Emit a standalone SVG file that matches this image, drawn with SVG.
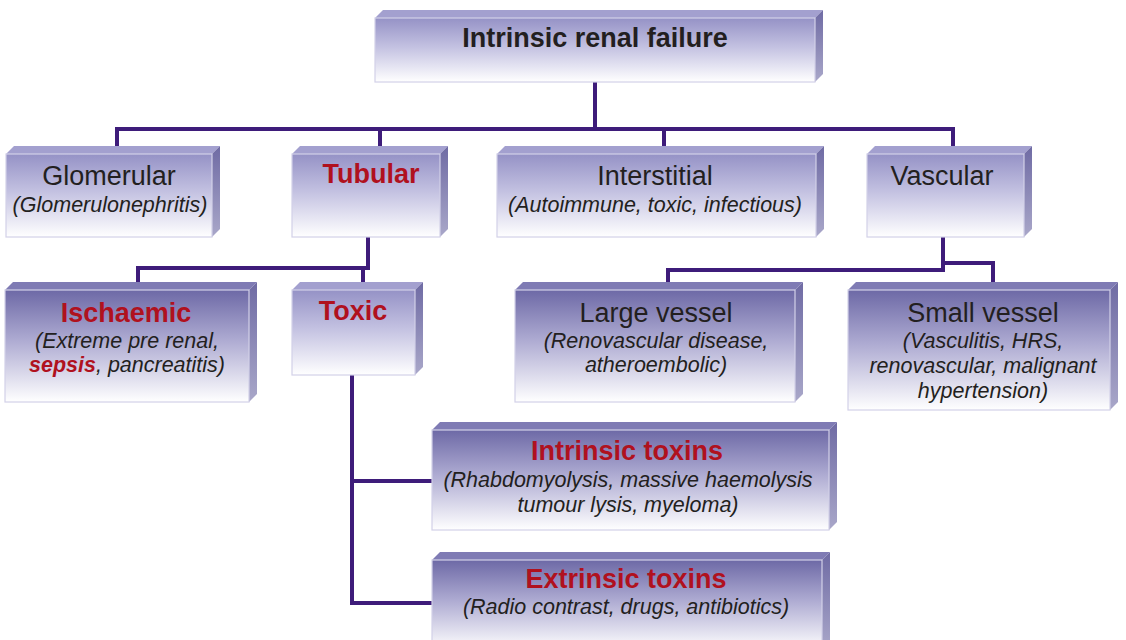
<svg xmlns="http://www.w3.org/2000/svg" width="1126" height="640" viewBox="0 0 1126 640">
<defs>
<linearGradient id="gLight" x1="0" y1="0" x2="0" y2="1">
<stop offset="0" stop-color="#9592c6"/>
<stop offset="0.45" stop-color="#c3c1e1"/>
<stop offset="1" stop-color="#ffffff"/>
</linearGradient>
<linearGradient id="gDark" x1="0" y1="0" x2="0" y2="1">
<stop offset="0" stop-color="#6d69a6"/>
<stop offset="0.45" stop-color="#aeabd2"/>
<stop offset="1" stop-color="#ffffff"/>
</linearGradient>
<linearGradient id="gSide" x1="0" y1="0" x2="0" y2="1">
<stop offset="0" stop-color="#6f6ba4"/>
<stop offset="1" stop-color="#a9a7c9"/>
</linearGradient>
</defs>
<style>
.front{stroke:#d3d1e8;stroke-width:1.2}
.lt{fill:url(#gLight)}
.dk{fill:url(#gDark)}
.topL{fill:#a3a0cf}
.topD{fill:#7f7bb4}
.side{fill:url(#gSide)}
.conn{fill:none;stroke:#3e1c7a;stroke-width:4;stroke-linejoin:miter;stroke-linecap:square}
text{font-family:"Liberation Sans",Arial,sans-serif;text-anchor:middle;fill:#231f20}
.t{font-size:27px}
.b{font-size:27px;font-weight:bold}
.r{fill:#b0111e}
.s{font-size:21.5px;font-style:italic}
</style>
<rect width="1126" height="640" fill="#ffffff"/>

<g id="connectors">
<path class="conn" d="M595 82 V129"/>
<path class="conn" d="M117 146 V129 H953 V146"/>
<path class="conn" d="M380 129 V146"/>
<path class="conn" d="M664 129 V146"/>
<path class="conn" d="M368 237 V268 H138 V282"/>
<path class="conn" d="M363 268 V282"/>
<path class="conn" d="M352 375 V603 H432"/>
<path class="conn" d="M352 481 H432"/>
<path class="conn" d="M943 237 V270 H668 V282"/>
<path class="conn" d="M943 263 H993 V282"/>
</g>

<g id="n-root">
<polygon class="topL" points="375,18 383,10 823,10 815,18"/>
<polygon class="side" points="815,18 823,10 823,74 815,82"/>
<rect class="front lt" x="375" y="18" width="440" height="64"/>
<text class="b" x="595" y="47">Intrinsic renal failure</text>
</g>

<g id="n-glomerular">
<polygon class="topL" points="6,154 14,146 220,146 212,154"/>
<polygon class="side" points="212,154 220,146 220,229 212,237"/>
<rect class="front lt" x="6" y="154" width="206" height="83"/>
<text class="t" x="109" y="185">Glomerular</text>
<text class="s" x="110" y="212">(Glomerulonephritis)</text>
</g>

<g id="n-tubular">
<polygon class="topL" points="292,154 300,146 448,146 440,154"/>
<polygon class="side" points="440,154 448,146 448,229 440,237"/>
<rect class="front lt" x="292" y="154" width="148" height="83"/>
<text class="b r" x="371" y="183">Tubular</text>
</g>

<g id="n-interstitial">
<polygon class="topL" points="497,154 505,146 824,146 816,154"/>
<polygon class="side" points="816,154 824,146 824,229 816,237"/>
<rect class="front lt" x="497" y="154" width="319" height="83"/>
<text class="t" x="655" y="185">Interstitial</text>
<text class="s" x="655" y="212">(Autoimmune, toxic, infectious)</text>
</g>

<g id="n-vascular">
<polygon class="topL" points="867,154 875,146 1032,146 1024,154"/>
<polygon class="side" points="1024,154 1032,146 1032,229 1024,237"/>
<rect class="front lt" x="867" y="154" width="157" height="83"/>
<text class="t" x="942" y="185">Vascular</text>
</g>

<g id="n-ischaemic">
<polygon class="topD" points="5,290 13,282 257,282 249,290"/>
<polygon class="side" points="249,290 257,282 257,394 249,402"/>
<rect class="front dk" x="5" y="290" width="244" height="112"/>
<text class="b r" x="126" y="322">Ischaemic</text>
<text class="s" x="127" y="348">(Extreme pre renal,</text>
<text class="s" x="127" y="372"><tspan class="r" font-weight="bold">sepsis</tspan>, pancreatitis)</text>
</g>

<g id="n-toxic">
<polygon class="topL" points="292,290 300,282 423,282 415,290"/>
<polygon class="side" points="415,290 423,282 423,367 415,375"/>
<rect class="front lt" x="292" y="290" width="123" height="85"/>
<text class="b r" x="353" y="320">Toxic</text>
</g>

<g id="n-large">
<polygon class="topD" points="515,290 523,282 803,282 795,290"/>
<polygon class="side" points="795,290 803,282 803,394 795,402"/>
<rect class="front dk" x="515" y="290" width="280" height="112"/>
<text class="t" x="656" y="322">Large vessel</text>
<text class="s" x="656" y="348">(Renovascular disease,</text>
<text class="s" x="656" y="372">atheroembolic)</text>
</g>

<g id="n-small">
<polygon class="topD" points="848,290 856,282 1118,282 1110,290"/>
<polygon class="side" points="1110,290 1118,282 1118,402 1110,410"/>
<rect class="front dk" x="848" y="290" width="262" height="120"/>
<text class="t" x="983" y="322">Small vessel</text>
<text class="s" x="983" y="348">(Vasculitis, HRS,</text>
<text class="s" x="983" y="373">renovascular, malignant</text>
<text class="s" x="983" y="398">hypertension)</text>
</g>

<g id="n-intrinsic">
<polygon class="topD" points="432,430 440,422 837,422 829,430"/>
<polygon class="side" points="829,430 837,422 837,522 829,530"/>
<rect class="front dk" x="432" y="430" width="397" height="100"/>
<text class="b r" x="627" y="460">Intrinsic toxins</text>
<text class="s" x="628" y="487">(Rhabdomyolysis, massive haemolysis</text>
<text class="s" x="628" y="512">tumour lysis, myeloma)</text>
</g>

<g id="n-extrinsic">
<polygon class="topD" points="432,560 440,552 830,552 822,560"/>
<polygon class="side" points="822,560 830,552 830,642 822,650"/>
<rect class="front dk" x="432" y="560" width="390" height="90"/>
<text class="b r" x="626" y="588">Extrinsic toxins</text>
<text class="s" x="626" y="614">(Radio contrast, drugs, antibiotics)</text>
</g>
</svg>
